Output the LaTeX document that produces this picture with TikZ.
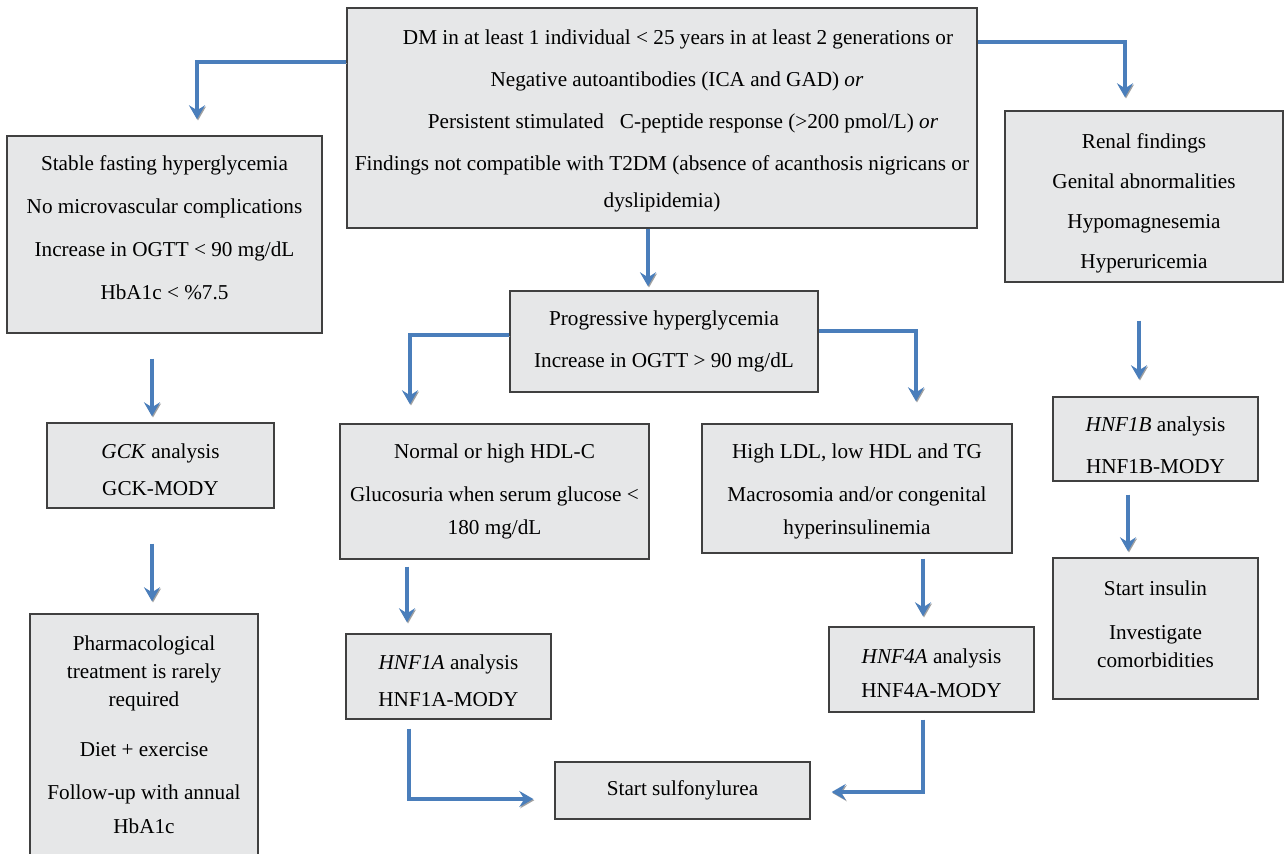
\documentclass[tikz,border=0pt]{standalone}
\usepackage{fontspec}
\setmainfont{Liberation Serif}
\usetikzlibrary{arrows.meta}
\definecolor{boxgray}{HTML}{E6E7E8}
\definecolor{flowblue}{HTML}{4A7EBB}
\definecolor{shadowgray}{HTML}{A0A0A0}

\begin{document}
\begin{tikzpicture}[x=0.5pt, y=-0.5pt]
\tikzstyle{box} = [rectangle, draw=black!75, line width=0.7pt, fill=boxgray, align=center, inner sep=0pt, font=\fontsize{10.6}{14}\selectfont]
\tikzstyle{flow} = [line width=2.1pt, draw=flowblue, -{Stealth[length=7pt,width=8pt,inset=2.5pt]}, preaction={draw=shadowgray, transform canvas={shift={(0.5pt,-0.6pt)}}}]

\useasboundingbox (0,0) rectangle (1285,853);

\node[box, minimum width=315pt, minimum height=110pt] (criteria) at (662,118) {\hspace*{16pt}\rule{0pt}{10.3pt}DM in at least 1 individual < 25 years in at least 2 generations or\\[7pt] \hspace*{15pt}Negative autoantibodies (ICA and GAD) \textit{or}\\[7pt] \hspace*{21pt}Persistent stimulated\ \ \ C-peptide response (>200 pmol/L) \textit{or}\\[7pt] Findings not compatible with T2DM (absence of acanthosis nigricans or\\[4.5pt] dyslipidemia)};
\node[box, minimum width=157.5pt, minimum height=98.5pt] (stable) at (164.5,234.5) {Stable fasting hyperglycemia\\[7.5pt] No microvascular complications\\[7.5pt] Increase in OGTT < 90 mg/dL\\[7.5pt] HbA1c < \%7.5\rule[-7pt]{0pt}{0pt}};
\node[box, minimum width=139pt, minimum height=85.5pt] (renal) at (1144,196.5) {\rule{0pt}{14.3pt}Renal findings\\[6pt] Genital abnormalities\\[6pt] Hypomagnesemia\\[6pt] Hyperuricemia};
\node[box, minimum width=154pt, minimum height=50.5pt] (progressive) at (664,341.5) {Progressive hyperglycemia\\[7pt] Increase in OGTT > 90 mg/dL};

\node[box, minimum width=113.5pt, minimum height=42.5pt] (gck) at (160.5,465.5) {\rule{0pt}{11.3pt}\textit{GCK} analysis\\[4.5pt] GCK-MODY};
\node[box, minimum width=154.5pt, minimum height=67.5pt] (hdl) at (494.5,491.5) {Normal or high HDL-C\\[7.5pt] Glucosuria when serum glucose <\\[2.5pt] 180 mg/dL};
\node[box, minimum width=155pt, minimum height=64.5pt] (ldl) at (857,488.5) {\rule{0pt}{10.3pt}High LDL, low HDL and TG\\[7.5pt] Macrosomia and/or congenital\\[2.5pt] hyperinsulinemia};
\node[box, minimum width=102.5pt, minimum height=42pt] (hnfib) at (1155.5,439) {\rule{0pt}{13.3pt}\textit{HNF1B} analysis\\[7pt] HNF1B-MODY};

\node[box, minimum width=114pt, minimum height=121pt] (pharma) at (144,735) {Pharmacological\\ treatment is rarely\\ required\\[11pt] Diet + exercise\\[7.5pt] Follow-up with annual\\[3pt] HbA1c};
\node[box, minimum width=102.5pt, minimum height=42.5pt] (hnfia) at (448.5,676.5) {\rule{0pt}{11.3pt}\textit{HNF1A} analysis\\[4.5pt] HNF1A-MODY};
\node[box, minimum width=102.5pt, minimum height=42.5pt] (hnfiva) at (931.5,669.5) {\rule{0pt}{11.3pt}\textit{HNF4A} analysis\\[3pt] HNF4A-MODY};
\node[box, minimum width=102.5pt, minimum height=70.5pt] (insulin) at (1155.5,628.5) {Start insulin\\[8pt] Investigate\\ comorbidities\rule[-4pt]{0pt}{0pt}};
\node[box, minimum width=127.5pt, minimum height=28.5pt] (sulfo) at (682.5,790.5) {Start sulfonylurea};

\draw[flow, shorten >=8pt] (criteria.west |- 0,62) -| (197,0 |- stable.north);
\draw[flow, shorten >=6.5pt] (criteria.east |- 0,42) -| (1125,0 |- renal.north);
\draw[flow, shorten >=2pt] (648,0 |- criteria.south) -- (648,0 |- progressive.north);
\draw[flow, shorten >=9.5pt] (progressive.west |- 0,335) -| (410,0 |- hdl.north);
\draw[flow, shorten >=11pt] (progressive.east |- 0,331) -| (916,0 |- ldl.north);

\draw[flow, shorten <=12.5pt, shorten >=3pt] (152,0 |- stable.south) -- (152,0 |- gck.north);
\draw[flow, shorten <=17.5pt, shorten >=6pt] (152,0 |- gck.south) -- (152,0 |- pharma.north);
\draw[flow, shorten <=19pt, shorten >=8.5pt] (1139,0 |- renal.south) -- (1139,0 |- hnfib.north);
\draw[flow, shorten <=6.5pt, shorten >=3pt] (1128,0 |- hnfib.south) -- (1128,0 |- insulin.north);
\draw[flow, shorten <=3.5pt, shorten >=5.5pt] (407,0 |- hdl.south) -- (407,0 |- hnfia.north);
\draw[flow, shorten <=2.5pt, shorten >=5pt] (923,0 |- ldl.south) -- (923,0 |- hnfiva.north);

\draw[flow, shorten <=4.5pt, shorten >=10.5pt] (409,0 |- hnfia.south) |- (sulfo.west |- 0,799);
\draw[flow, shorten <=3.5pt, shorten >=10.5pt] (923,0 |- hnfiva.south) |- (sulfo.east |- 0,792);
\end{tikzpicture}
\end{document}
